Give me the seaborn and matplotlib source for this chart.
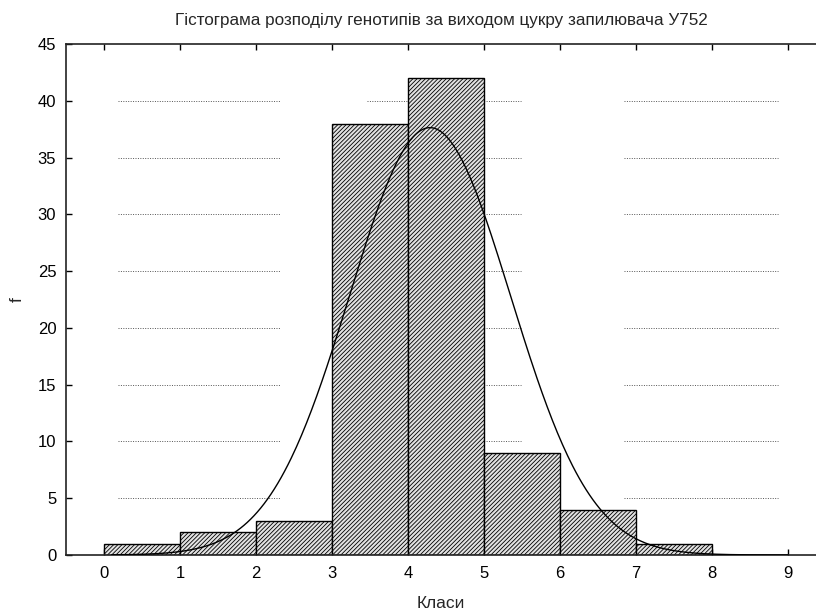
import numpy as np
import matplotlib.pyplot as plt
import pandas as pd
import seaborn as sns

# class boundaries and frequencies
class_left = [0, 1, 2, 3, 4, 5, 6, 7, 8]
freq = [1, 2, 3, 38, 42, 9, 4, 1, 0]
n_total = 100
# fitted normal curve parameters
mu = 4.29
sigma = 1.06

title = 'Гістограма розподілу генотипів за виходом цукру запилювача У752'
x_label = 'Класи'
y_label = 'f'
x_ticks = list(range(0, 10))
y_ticks = list(range(0, 50, 5))
grid_levels = [5, 10, 15, 20, 25, 30, 35, 40]

sns.set_theme(style='white')
plt.rcParams['font.family'] = ['Liberation Sans', 'DejaVu Sans']
plt.rcParams['hatch.linewidth'] = 0.6
plt.rcParams['hatch.color'] = '#808080'

df = pd.DataFrame({'mid': np.array(class_left) + 0.5, 'f': freq})
bin_edges = class_left + [class_left[-1] + 1]

fig = plt.figure(figsize=(8.16, 6.14), dpi=100)
ax = fig.add_axes([0.0809, 0.0961, 0.9191, 0.8322])

# dotted gridlines, drawn in pieces like the original
for lvl in grid_levels:
    for x0, x1 in [(0.18, 2.32), (3.46, 5.49), (6.84, 8.87)]:
        ax.plot([x0, x1], [lvl, lvl], color='#555555', linestyle=(0, (1, 1.5)),
                linewidth=0.7, zorder=0)

sns.histplot(data=df, x='mid', weights='f', bins=bin_edges, ax=ax,
             color='#e2e2e2', edgecolor='black', linewidth=1.0, hatch='////////',
             alpha=1.0, zorder=2)

xs = np.linspace(0.1, 9.0, 400)
curve = pd.DataFrame({'x': xs,
                      'y': n_total / (sigma * np.sqrt(2 * np.pi)) * np.exp(-0.5 * ((xs - mu) / sigma) ** 2)})
sns.lineplot(data=curve, x='x', y='y', ax=ax, color='black', linewidth=1.0, zorder=3)

ax.set_xlim(-0.5, 9.37)
ax.set_ylim(0, 45)
ax.set_xticks(x_ticks)
ax.set_yticks(y_ticks)
ax.tick_params(axis='x', direction='in', top=True, bottom=True, length=4, width=1,
               labelsize=12, pad=8, colors='black')
ax.tick_params(axis='y', direction='in', left=True, length=4, width=1,
               labelsize=12, pad=7, colors='black')
for side in ['top', 'bottom', 'left']:
    ax.spines[side].set_color('#222222')
    ax.spines[side].set_linewidth(1.2)
ax.spines['right'].set_visible(False)

ax.set_xlabel(x_label, fontsize=12.5, labelpad=11)
ax.set_ylabel(y_label, fontsize=12.5, labelpad=9)
ax.set_title(title, fontsize=12.3, pad=14)

fig.savefig('out.png', dpi=100)
